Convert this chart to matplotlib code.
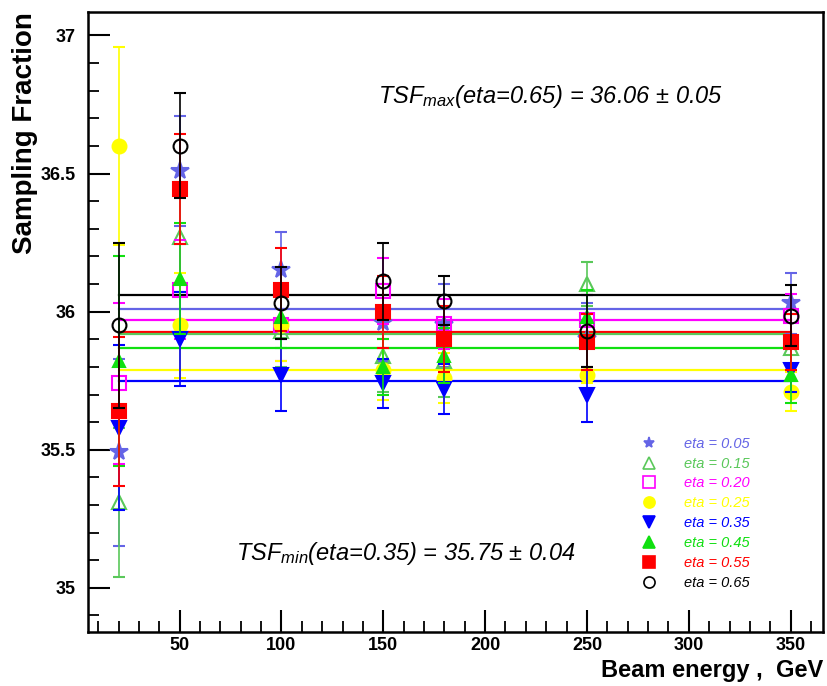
import numpy as np
import matplotlib
matplotlib.use("Agg")
import matplotlib.pyplot as plt
from matplotlib.lines import Line2D

plt.rcParams['font.family'] = ['Liberation Sans', 'DejaVu Sans']
plt.rcParams['mathtext.fontset'] = 'custom'
plt.rcParams['mathtext.it'] = 'Liberation Sans:italic'
plt.rcParams['mathtext.rm'] = 'Liberation Sans:italic'

energy = [20, 50, 100, 150, 180, 250, 350]

labels = ["eta = 0.05", "eta = 0.15", "eta = 0.20", "eta = 0.25",
          "eta = 0.35", "eta = 0.45", "eta = 0.55", "eta = 0.65"]

sf_005 = [35.49, 36.51, 36.15, 35.96, 35.95, 35.90, 36.03]
sf_015 = [35.31, 36.27, 35.93, 35.84, 35.82, 36.10, 35.87]
sf_020 = [35.74, 36.08, 35.95, 36.075, 35.955, 35.97, 35.985]
sf_025 = [36.60, 35.95, 35.95, 35.79, 35.76, 35.77, 35.71]
sf_035 = [35.58, 35.90, 35.77, 35.74, 35.72, 35.70, 35.79]
sf_045 = [35.82, 36.12, 35.98, 35.80, 35.84, 35.98, 35.77]
sf_055 = [35.64, 36.445, 36.08, 36.00, 35.90, 35.89, 35.89]
sf_065 = [35.95, 36.60, 36.03, 36.11, 36.04, 35.93, 35.985]

err_005 = [0.34, 0.20, 0.14, 0.14, 0.15, 0.13, 0.11]
err_015 = [0.27, 0.20, 0.13, 0.13, 0.13, 0.08, 0.12]
err_020 = [0.29, 0.18, 0.13, 0.12, 0.09, 0.09, 0.08]
err_025 = [0.36, 0.19, 0.13, 0.11, 0.09, 0.03, 0.07]
err_035 = [0.30, 0.17, 0.13, 0.09, 0.09, 0.10, 0.08]
err_045 = [0.38, 0.20, 0.11, 0.10, 0.10, 0.10, 0.10]
err_055 = [0.27, 0.20, 0.15, 0.13, 0.12, 0.10, 0.10]
err_065 = [0.30, 0.19, 0.13, 0.14, 0.09, 0.13, 0.11]

# fitted constants per eta
fit = [36.01, 35.92, 35.97, 35.79, 35.75, 35.87, 35.925, 36.06]

values = [sf_005, sf_015, sf_020, sf_025, sf_035, sf_045, sf_055, sf_065]
errors = [err_005, err_015, err_020, err_025, err_035, err_045, err_055, err_065]
colors = ["#6464e6", "#5ac85a", "#ff00ff", "#ffff00",
          "#0000ff", "#10e010", "#ff0000", "#000000"]
markers = ["*", "^", "s", "o", "v", "^", "s", "o"]
filled = [True, False, False, True, True, True, True, False]
msizes = [13, 10, 10, 10, 10, 9, 10, 10]

fig = plt.figure(figsize=(8.27, 6.86), dpi=100)
ax = fig.add_axes([0.1064, 0.0787, 0.889, 0.9038])

# fit lines first, points on top
line_order = [7, 0, 2, 6, 1, 5, 3, 4]
for i in line_order:
    ax.plot([energy[0], energy[-1]], [fit[i], fit[i]], color=colors[i], lw=1.6, zorder=2)

for i in range(8):
    c = colors[i]
    ax.errorbar(energy, values[i], yerr=errors[i], fmt=markers[i], color=c,
                ms=msizes[i], mfc=c if filled[i] else 'none', mec=c, mew=1.5,
                elinewidth=1.2, capsize=4, capthick=1.2, zorder=3 + i)

ax.set_xlim(5, 366)
ax.set_ylim(34.84, 37.085)
ax.set_xticks([50, 100, 150, 200, 250, 300, 350])
ax.set_xticks(np.arange(10, 366, 10), minor=True)
ax.set_yticks([35, 35.5, 36, 36.5, 37])
ax.set_yticklabels(["35", "35.5", "36", "36.5", "37"])
ax.set_yticks(np.arange(34.9, 37.05, 0.1), minor=True)
ax.tick_params(which='major', direction='in', length=16, width=1.5, labelsize=13)
ax.tick_params(axis='y', which='major', pad=9)
ax.tick_params(which='minor', direction='in', length=8, width=1.3)
for lab in ax.get_xticklabels() + ax.get_yticklabels():
    lab.set_fontweight('bold')
for s in ax.spines.values():
    s.set_linewidth(1.8)

ax.set_xlabel("Beam energy ,  GeV", fontsize=17, fontweight='bold', loc='right')
ax.set_ylabel("Sampling Fraction", fontsize=20, fontweight='bold', loc='top', labelpad=2)

ax.text(147.5, 36.78, r"$TSF_{max}$(eta=0.65) = 36.06 ± 0.05", fontsize=17,
        style='italic', va='center', ha='left')
ax.text(77.5, 35.125, r"$TSF_{min}$(eta=0.35) = 35.75 ± 0.04", fontsize=17,
        style='italic', va='center', ha='left')

handles = [Line2D([], [], ls='none', marker=markers[i], color=colors[i],
                  mfc=colors[i] if filled[i] else 'none', mec=colors[i],
                  ms=8, mew=1.2) for i in range(8)]
leg = ax.legend(handles, labels, loc='upper left', bbox_to_anchor=(0.735, 0.336),
                frameon=False, prop={'style': 'italic', 'size': 10.5},
                handlelength=1.0, handletextpad=1.9, labelspacing=0.4,
                labelcolor=colors)

fig.savefig("out.png", dpi=100)
